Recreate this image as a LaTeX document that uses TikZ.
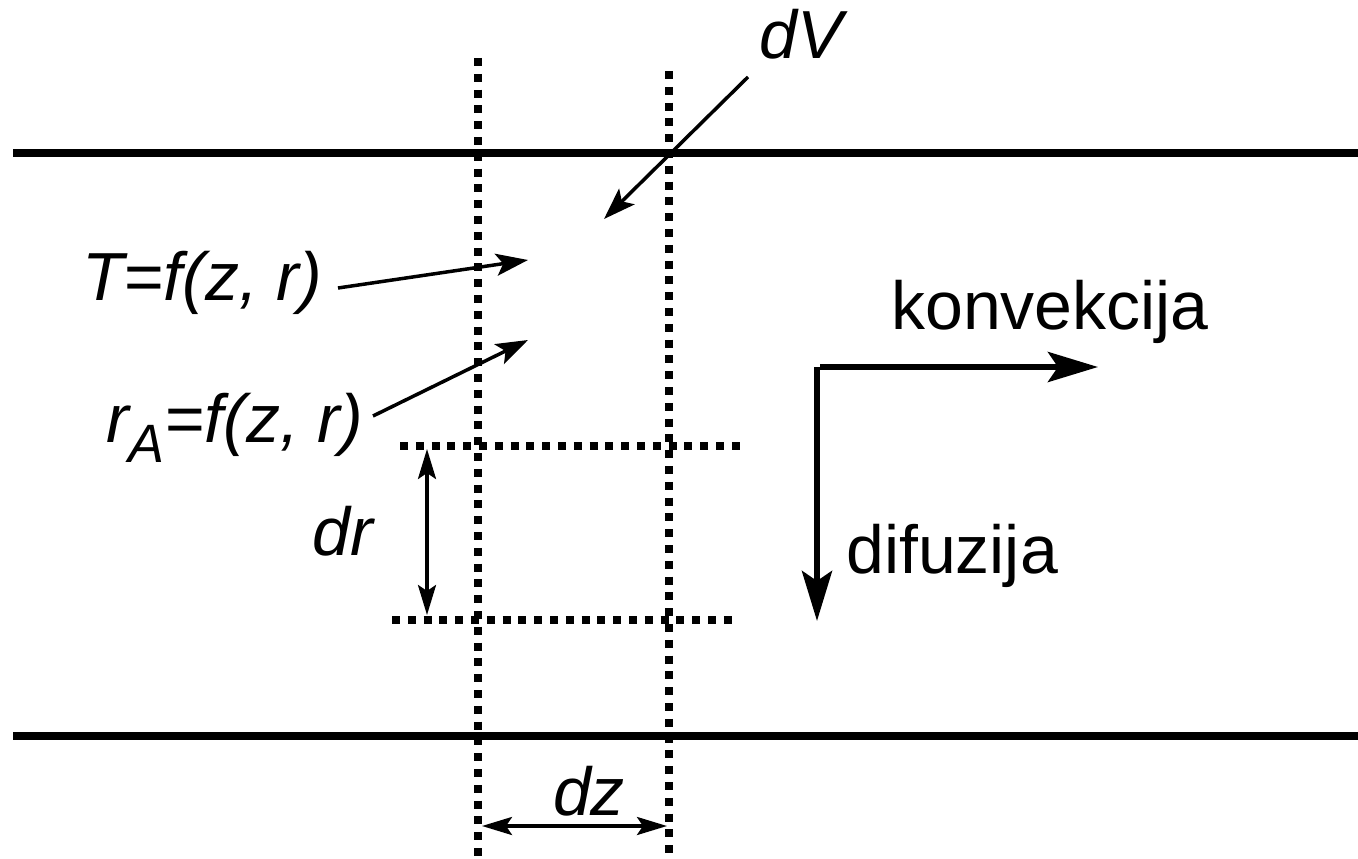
\documentclass[tikz,border=0pt]{standalone}
\usepackage{fontspec}
\setmainfont{Liberation Sans}
\usetikzlibrary{arrows.meta}
\begin{document}
\begin{tikzpicture}[x=1pt,y=-1pt,
  wall/.style={line width=7.5pt},
  dotline/.style={line width=8pt,dash pattern=on 8pt off 7.8pt},
  thinarrow/.style={line width=3.5pt,-{Stealth[length=32pt,width=22pt,inset=7pt]}},
  dimarrow/.style={line width=3.5pt,{Stealth[length=30pt,width=18pt,inset=6pt]}-{Stealth[length=30pt,width=18pt,inset=6pt]}},
  bigarrow/.style={line width=6pt,-{Stealth[length=50pt,width=30pt,inset=10pt]}},
  lbl/.style={inner sep=0pt,font=\fontsize{68}{72}\selectfont},
  ilbl/.style={inner sep=0pt,font=\fontsize{68}{72}\selectfont\itshape}]
\useasboundingbox (0,0) rectangle (1358,859);
% walls
\coordinate (wtl) at (13,153); \coordinate (wtr) at (1358,153);
\coordinate (wbl) at (13,736); \coordinate (wbr) at (1358,736);
\draw[wall] (wtl) -- (wtr);
\draw[wall] (wbl) -- (wbr);
% dotted lines
\coordinate (v1t) at (478,58); \coordinate (v1b) at (478,859);
\coordinate (v2t) at (669,71); \coordinate (v2b) at (669,859);
\coordinate (h1l) at (400,446); \coordinate (h1r) at (742,446);
\coordinate (h2l) at (392,620); \coordinate (h2r) at (733,620);
\draw[dotline] (v1t) -- (v1b);
\draw[dotline] (v2t) -- (v2b);
\draw[dotline] (h1l) -- (h1r);
\draw[dotline] (h2l) -- (h2r);
% dimension arrows
\coordinate (drt) at (427,449); \coordinate (drb) at (427,615);
\draw[dimarrow] (drt) -- (drb);
\node[ilbl] (dr) at (343,531) {dr};
\coordinate (dzl) at (482,826); \coordinate (dzr) at (667,826);
\draw[dimarrow] (dzl) -- (dzr);
\node[ilbl] (dz) at (589,791) {dz};
% labels with arrows
\node[ilbl] (dV) at (801,34) {dV};
\coordinate (dVs) at (748,77); \coordinate (dVe) at (604,219);
\draw[thinarrow] (dVs) -- (dVe);
\node[ilbl,anchor=west] (T) at (82,283) {T=f(z, r)};
\coordinate (Ts) at (338,288); \coordinate (Te) at (528,260);
\draw[thinarrow] (Ts) -- (Te);
\node[ilbl,anchor=base west] (rA) at (106,442) {r\raisebox{-20pt}{\fontsize{54}{58}\selectfont A}=f(z, r)};
\coordinate (rAs) at (373,416); \coordinate (rAe) at (528,340);
\draw[thinarrow] (rAs) -- (rAe);
% flow directions
\coordinate (corner) at (820,367);
\coordinate (kend) at (1098,367);
\coordinate (dend) at (820,621);
\draw[bigarrow] (corner) -- (kend);
\draw[bigarrow] ([xshift=-3pt]corner) -- ([xshift=-3pt]dend);
\node[lbl,anchor=west] (konv) at (891,312) {konvekcija};
\node[lbl,anchor=west] (dif) at (846,556) {difuzija};
\end{tikzpicture}
\end{document}
